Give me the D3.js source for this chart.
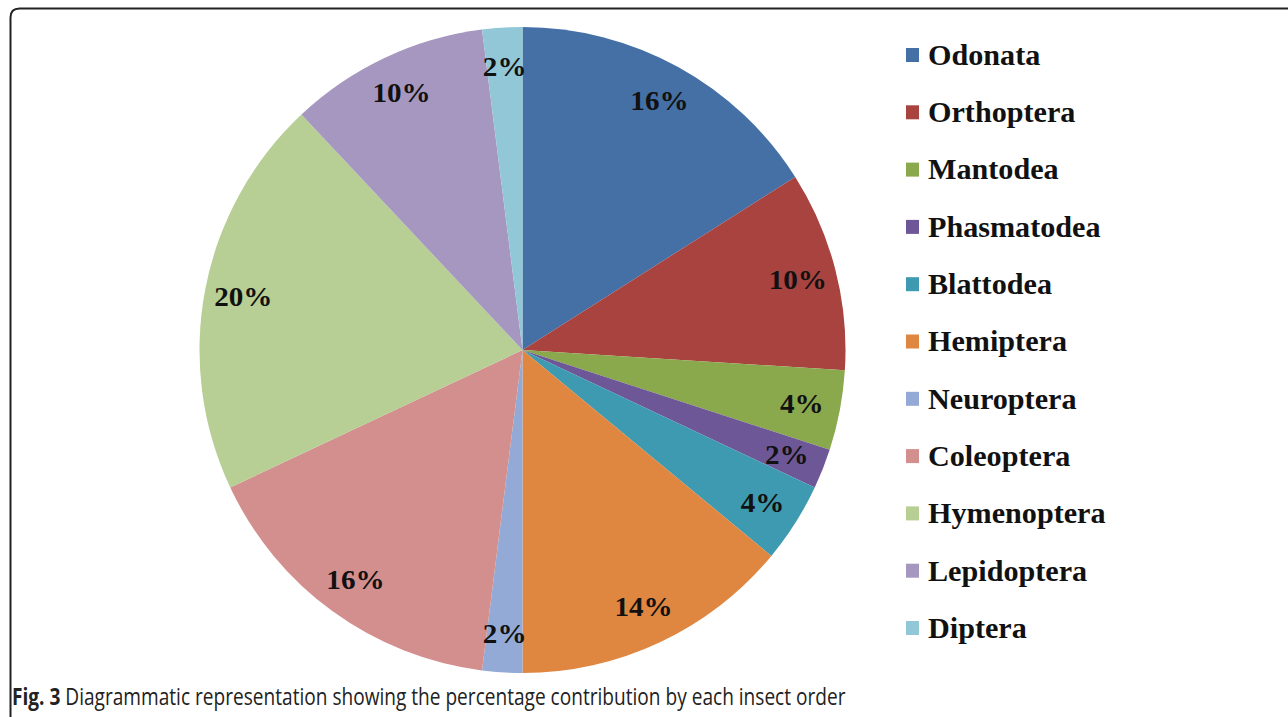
<!DOCTYPE html>
<html>
<head>
<meta charset="utf-8">
<script src="https://cdn.jsdelivr.net/npm/d3@7"></script>
<style>
  html, body { margin: 0; padding: 0; background: #ffffff; }
  svg { display: block; }
</style>
</head>
<body>
<svg id="chart" width="1288" height="717"></svg>
<script>
// Insect orders and their share of the collection (%)
const orders = ["Odonata", "Orthoptera", "Mantodea", "Phasmatodea", "Blattodea",
  "Hemiptera", "Neuroptera", "Coleoptera", "Hymenoptera", "Lepidoptera", "Diptera"];
const percents = [16, 10, 4, 2, 4, 14, 2, 16, 20, 10, 2];
const sliceColors = ["#4470a6", "#a84340", "#8aa84c", "#6e5797", "#3d9ab0",
  "#df8640", "#94aad6", "#d28f8d", "#b7ce94", "#a697c0", "#92c7d8"];
const captionBold = "Fig. 3";
const captionText = " Diagrammatic representation showing the percentage contribution by each insect order";

const svg = d3.select("#chart");
const W = 1288, H = 717;
const serif = "'Liberation Serif', 'Times New Roman', serif";

// Figure frame: rounded top-left corner, open on the right and bottom
const fx = 10.5, fy = 8.5, fr = 9;
svg.append("path")
  .attr("d", `M${fx},${H} L${fx},${fy + fr} Q${fx},${fy} ${fx + fr},${fy} L${W},${fy}`)
  .attr("fill", "none")
  .attr("stroke", "#222")
  .attr("stroke-width", 2);

// Pie
const cx = 522.5, cy = 350, radius = 323;
const data = orders.map((name, i) => ({ name, value: percents[i], color: sliceColors[i] }));

const pie = d3.pie().value(d => d.value).sort(null);
const arc = d3.arc().innerRadius(0).outerRadius(radius);
const labelArc = d3.arc().innerRadius(radius * 0.88).outerRadius(radius * 0.88);

const g = svg.append("g").attr("transform", `translate(${cx},${cy})`);
const arcs = pie(data);

g.selectAll("path.slice")
  .data(arcs)
  .join("path")
  .attr("class", "slice")
  .attr("d", arc)
  .attr("fill", d => d.data.color)
  .attr("stroke", "none");

g.selectAll("text.pct")
  .data(arcs)
  .join("text")
  .attr("class", "pct")
  .attr("transform", d => `translate(${labelArc.centroid(d)}) scale(1.04,1)`)
  .attr("text-anchor", "middle")
  .attr("dominant-baseline", "central")
  .attr("font-family", serif)
  .attr("font-weight", "bold")
  .attr("font-size", 28)
  .attr("fill", "#111")
  .text(d => d.data.value + "%");

// Legend
const legendX = 906, legendY0 = 55, legendStep = 57.3;
const legend = svg.append("g");
const items = legend.selectAll("g")
  .data(data)
  .join("g")
  .attr("transform", (d, i) => `translate(${legendX},${legendY0 + i * legendStep})`);

items.append("rect")
  .attr("x", 0).attr("y", -7)
  .attr("width", 13).attr("height", 14)
  .attr("fill", d => d.color);

items.append("text")
  .attr("transform", "translate(22,0) scale(1.04,1)")
  .attr("dominant-baseline", "central")
  .attr("font-family", serif)
  .attr("font-weight", "bold")
  .attr("font-size", 29)
  .attr("fill", "#111")
  .text(d => d.name);

// Caption (condensed sans)
const cap = svg.append("text")
  .attr("transform", "translate(12,705) scale(0.83,1)")
  .attr("font-family", "'Open Sans', 'Noto Sans', sans-serif")
  .attr("font-size", 23)
  .attr("fill", "#222");
cap.append("tspan").attr("font-weight", "bold").text(captionBold);
cap.append("tspan").text(captionText);
</script>
</body>
</html>
